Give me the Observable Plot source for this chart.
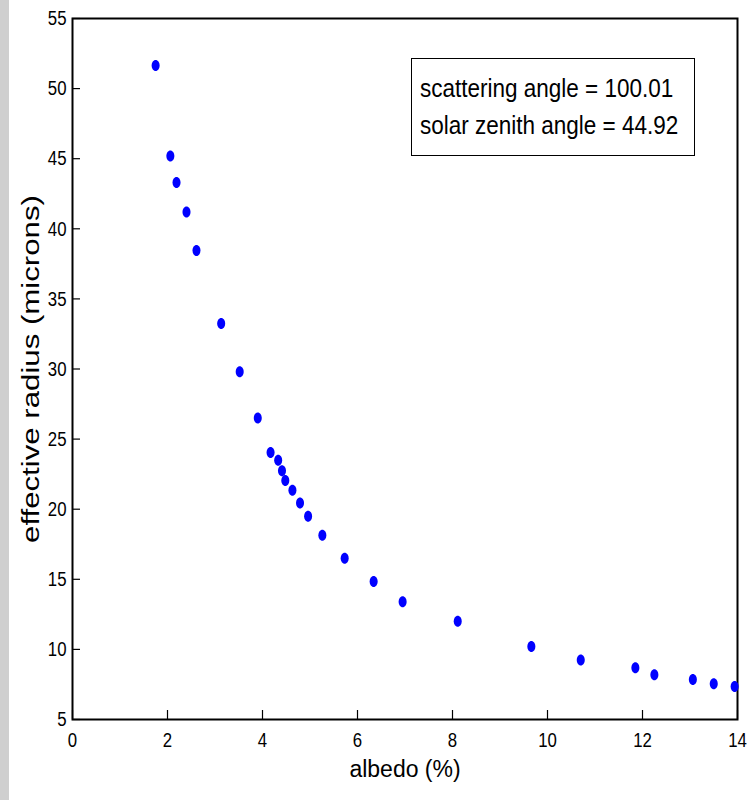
<!DOCTYPE html>
<html>
<head>
<meta charset="utf-8">
<script src="https://cdn.jsdelivr.net/npm/d3@7"></script>
<script src="https://cdn.jsdelivr.net/npm/@observablehq/plot@0.6"></script>
<style>
  html, body { margin: 0; padding: 0; background: #fff; }
  #wrap { position: relative; width: 751px; height: 800px;
    background: linear-gradient(to right, #cfcfcf 0px, #cfcfcf 9px, #ffffff 9px); }
  #wrap svg { position: absolute; left: 0; top: 0; background: transparent; }
  #legend { position: absolute; left: 411px; top: 58px; width: 282px; height: 96px;
    border: 1.5px solid #000; background: #fff; box-sizing: content-box;
    font-family: "Liberation Sans", Arial, sans-serif;
    font-size: 25px; line-height: 37px; color: #000; white-space: nowrap; }
  #legend div { margin-left: 8px; transform: scaleX(0.9); transform-origin: left center; }
</style>
</head>
<body>
<div id="wrap"></div>
<script>
const albedo = [1.75, 2.06, 2.19, 2.40, 2.61, 3.13, 3.52, 3.90, 4.17, 4.33, 4.41, 4.48, 4.63, 4.79, 4.96, 5.26, 5.73, 6.34, 6.95, 8.11, 9.66, 10.70, 11.85, 12.25, 13.06, 13.50, 13.94];
const radius = [51.65, 45.2, 43.3, 41.2, 38.45, 33.25, 29.8, 26.5, 24.05, 23.5, 22.75, 22.05, 21.35, 20.45, 19.5, 18.15, 16.5, 14.85, 13.4, 12.0, 10.2, 9.25, 8.7, 8.2, 7.85, 7.55, 7.35];
const xTicks = [0, 2, 4, 6, 8, 10, 12, 14];
const yTicks = [5, 10, 15, 20, 25, 30, 35, 40, 45, 50, 55];
const legendLines = ["scattering angle = 100.01", "solar zenith angle = 44.92"];

const data = albedo.map((a, i) => ({albedo: a, radius: radius[i]}));

const ellipse = {
  draw(context, size) {
    const r = Math.sqrt(size / Math.PI);
    const rx = r * 0.8, ry = r * 1.1, k = 0.5523;
    context.moveTo(rx, 0);
    context.bezierCurveTo(rx, k * ry, k * rx, ry, 0, ry);
    context.bezierCurveTo(-k * rx, ry, -rx, k * ry, -rx, 0);
    context.bezierCurveTo(-rx, -k * ry, -k * rx, -ry, 0, -ry);
    context.bezierCurveTo(k * rx, -ry, rx, -k * ry, rx, 0);
    context.closePath();
  }
};

const font = '"Liberation Sans", Arial, sans-serif';

const chart = Plot.plot({
  width: 751,
  height: 800,
  marginLeft: 72,
  marginTop: 18,
  marginRight: 14,
  marginBottom: 81,
  style: {fontFamily: font, fontSize: "21px", color: "#000", background: "transparent"},
  x: {domain: [0, 14], label: null},
  y: {domain: [5, 55], label: null},
  marks: [
    Plot.axisX(xTicks, {tickSize: -9, tickPadding: 22, tickFormat: d => String(d), stroke: "#000", strokeWidth: 1.2, fontSize: 21, label: null}),
    Plot.axisY(yTicks, {tickSize: -8, tickPadding: 14, tickFormat: d => String(d), stroke: "#000", strokeWidth: 1.2, fontSize: 21, label: null}),
    Plot.frame({stroke: "#000", strokeWidth: 2}),
    Plot.dot(data, {x: "albedo", y: "radius", r: 5, symbol: ellipse, fill: "#0000ff", stroke: "none"}),
    Plot.text(["albedo (%)"], {frameAnchor: "bottom", dy: 57, text: d => d, fontSize: 23}),
    Plot.text(["effective radius (microns)"], {frameAnchor: "left", textAnchor: "middle", dx: -41, rotate: -90, text: d => d, fontSize: 24, className: "ylabel"})
  ]
});

document.getElementById("wrap").appendChild(chart);

// narrow the tick labels (reference uses a condensed face)
chart.querySelectorAll("text").forEach(t => {
  const parent = t.closest("g");
  const isTick = parent && parent.getAttribute("aria-label") && /tick label/.test(parent.getAttribute("aria-label"));
  if (isTick) {
    t.setAttribute("font-size", "21");
    const tr = t.getAttribute("transform") || "";
    t.setAttribute("transform", (tr + " scale(0.8,1)").trim());
  }
});
// widen the y-axis label as in the reference
const yl = chart.querySelector(".ylabel text");
if (yl) {
  const tr = yl.getAttribute("transform") || "";
  yl.setAttribute("transform", tr + " scale(1.3,1)");
}

const leg = document.createElement("div");
leg.id = "legend";
leg.innerHTML = legendLines.map(t => `<div>${t}</div>`).join("");
leg.style.paddingTop = "11px";
leg.style.height = "85px";
document.getElementById("wrap").appendChild(leg);
</script>
</body>
</html>
